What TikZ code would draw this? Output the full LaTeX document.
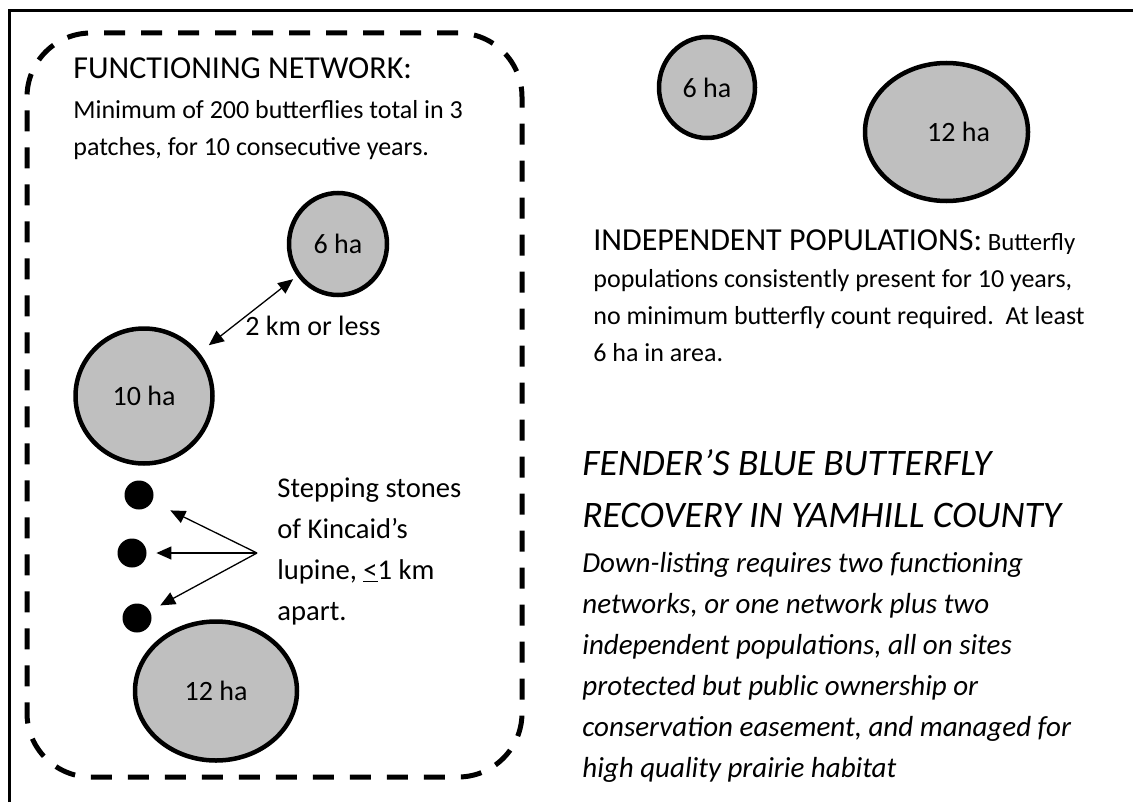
\documentclass[tikz,border=0pt]{standalone}
\usepackage{fontspec}
\setmainfont{Carlito}
\usetikzlibrary{shapes.geometric, arrows.meta, positioning}
\definecolor{sitegray}{HTML}{BFBFBF}
\tikzstyle{site} = [ellipse, draw=black, line width=2.25pt, fill=sitegray, inner sep=0pt, font=\fontsize{14}{17}\selectfont]
\tikzstyle{stone} = [circle, fill=black, minimum size=14.5pt, inner sep=0pt]
\tikzstyle{netbox} = [rectangle, draw=black, line width=2.5pt, dash pattern=on 10.5pt off 8pt, rounded corners=32pt, minimum width=247.5pt, minimum height=372pt]
\tikzstyle{txt} = [anchor=base west, align=left, inner sep=0pt]
\tikzstyle{arrow} = [line width=0.65pt, -{Triangle[length=7.5pt,width=6.5pt]}]
\tikzstyle{twoway} = [line width=0.65pt, {Triangle[length=7.5pt,width=6.5pt]}-{Triangle[length=7.5pt,width=6.5pt]}]

\begin{document}
\begin{tikzpicture}[x=0.5pt, y=-0.5pt]
\useasboundingbox (0,0) rectangle (1133,802);
\draw [line width=1.4pt] (9.5,802) -- (9.5,10.5) -- (1133,10.5);

% functioning network
\node (netframe) [netbox] at (274.5,405) {};
\node (nethead) [txt, font=\fontsize{16}{19}\selectfont] at (73,79) {FUNCTIONING NETWORK:};
\node (netrule) [txt, font=\fontsize{13}{18.5}\selectfont] at (73,156) {Minimum of 200 butterflies total in 3\\patches, for 10 consecutive years.};

\node (netsix) [site, minimum width=49pt, minimum height=51pt] at (338,244) {6 ha};
\node (netten) [site, minimum width=68.5pt, minimum height=67.5pt] at (144,396) {10 ha};
\node (nettwelve) [site, minimum width=81pt, minimum height=69.5pt] at (216,691) {12 ha};
\draw [twoway, shorten <=6pt, shorten >=2.5pt] (netten) -- (netsix);
\node (dist) [txt, font=\fontsize{14}{17}\selectfont] at (245,335) {2 km or less};

\node (stoneA) [stone] at (139,495) {};
\node (stoneB) [stone] at (132,553) {};
\node (stoneC) [stone] at (137,618) {};
\coordinate (fork) at (257,553);
\draw [arrow, shorten >=10pt] (fork) -- (stoneA);
\draw [arrow, shorten >=4.75pt] (fork) -- (stoneB);
\draw [arrow, shorten >=5.75pt] (fork) -- (stoneC);
\node (stepping) [txt, font=\fontsize{14.3}{20.5}\selectfont] at (277,620) {Stepping stones\\of Kincaid’s\\lupine, \underline{<}1 km\\apart.};

% independent populations
\node (indsix) [site, minimum width=48pt, minimum height=50.5pt] at (707,87.5) {6 ha};
\node (indtwelve) [site, minimum width=81.5pt, minimum height=69pt] at (946.5,132) {\hspace{12pt}12 ha};
\node (indtext) [txt, font=\fontsize{13}{18.4}\selectfont] at (593,361) {{\fontsize{16}{18.4}\selectfont INDEPENDENT POPULATIONS:} {\fontsize{12.4}{18.4}\selectfont Butterfly}\\populations consistently present for 10 years,\\no minimum butterfly count required.\ \ At least\\6 ha in area.};

% title
\node (title) [txt, font=\fontsize{18.7}{26}\selectfont\itshape] at (582,527) {FENDER’S BLUE BUTTERFLY\\RECOVERY IN YAMHILL COUNTY};
\node (goal) [txt, font=\fontsize{14.5}{20.5}\selectfont\itshape] at (582,777) {Down-listing requires two functioning\\networks, or one network plus two\\independent populations, all on sites\\protected but public ownership or\\conservation easement, and managed for\\high quality prairie habitat};
\end{tikzpicture}
\end{document}
